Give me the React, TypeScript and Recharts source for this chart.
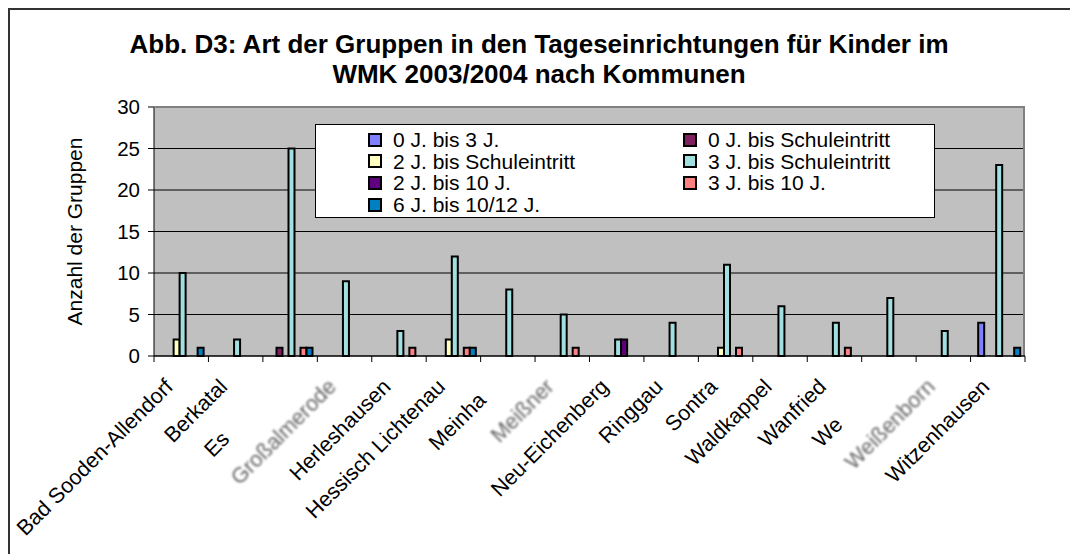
import { Bar, BarChart, CartesianGrid, Label, Legend, XAxis, YAxis } from 'recharts';

// Abb. D3: Gruppenarten je Kommune, WMK 2003/2004 (Excel-Optik nachgebaut)

const kommunen = [
  'Bad Sooden-Allendorf',
  'Berkatal',
  'Es',
  'Großalmerode',
  'Herleshausen',
  'Hessisch Lichtenau',
  'Meinha',
  'Meißner',
  'Neu-Eichenberg',
  'Ringgau',
  'Sontra',
  'Waldkappel',
  'Wanfried',
  'We',
  'Weißenborn',
  'Witzenhausen',
];
// im Original unscharf dargestellte Beschriftungen
const unscharf = ['Großalmerode', 'Meißner', 'Weißenborn'];
// im Original abgeschnittene Beschriftungen: fehlender Rest (nur für die Position)
const abgeschnitten: Record<string, string> = { Es: 'chwege', Meinha: 'rd', We: 'hretal' };

const null3 = [0, 0, 0, 0, 0, 0, 0, 0, 0, 0, 0, 0, 0, 0, 0, 4];
const nullSchule = [0, 0, 1, 0, 0, 0, 0, 0, 0, 0, 0, 0, 0, 0, 0, 0];
const zweiSchule = [2, 0, 0, 0, 0, 2, 0, 0, 0, 0, 1, 0, 0, 0, 0, 0];
const dreiSchule = [10, 2, 25, 9, 3, 12, 8, 5, 2, 4, 11, 6, 4, 7, 3, 23];
const zwei10 = [0, 0, 0, 0, 0, 0, 0, 0, 2, 0, 0, 0, 0, 0, 0, 0];
const drei10 = [0, 0, 1, 0, 1, 1, 0, 1, 0, 0, 1, 0, 1, 0, 0, 0];
const sechs10 = [1, 0, 1, 0, 0, 1, 0, 0, 0, 0, 0, 0, 0, 0, 0, 1];

const yTicks = [0, 5, 10, 15, 20, 25, 30];

const series = [
  { id: 'null3', label: '0 J. bis 3 J.', color: '#8080FF', values: null3 },
  { id: 'nullSchule', label: '0 J. bis Schuleintritt', color: '#802060', values: nullSchule },
  { id: 'zweiSchule', label: '2 J. bis Schuleintritt', color: '#FFFFC0', values: zweiSchule },
  { id: 'dreiSchule', label: '3 J. bis Schuleintritt', color: '#A0E0E0', values: dreiSchule },
  { id: 'zwei10', label: '2 J. bis 10 J.', color: '#600080', values: zwei10 },
  { id: 'drei10', label: '3 J. bis 10 J.', color: '#FF8080', values: drei10 },
  { id: 'sechs10', label: '6 J. bis 10/12 J.', color: '#0080C0', values: sechs10 },
];

const data = kommunen.map((name, i) => {
  const row: Record<string, string | number> = { name };
  for (const s of series) row[s.id] = s.values[i];
  return row;
});

const FONT = '"Liberation Sans", Arial, sans-serif';
const W = 1062;
const H = 546;
const M = { top: 99, right: 45, bottom: 0, left: 0 };
const Y_W = 146;
const X_H = 198;
const PLOT_W = W - M.right - Y_W;
const PLOT_H = H - M.top - X_H;
const BAND = PLOT_W / kommunen.length;
const TICK = 6;
const TICK_GAP = 4;
const X_FONT = 21.5;

let measureCtx: CanvasRenderingContext2D | null = null;
function textWidth(s: string) {
  if (!measureCtx) measureCtx = document.createElement('canvas').getContext('2d');
  if (!measureCtx) return s.length * X_FONT * 0.55;
  measureCtx.font = `${X_FONT}px "Liberation Sans", Arial, sans-serif`;
  return measureCtx.measureText(s).width;
}

function KommuneTick(props: any) {
  const { x, y, payload, index } = props;
  const axisY = y - TICK - TICK_GAP;
  const name = String(payload.value);
  const blur = unscharf.includes(name);
  const rest = abgeschnitten[name];
  const tx = x - 7;
  const ty = axisY + 32;
  const shift = rest ? textWidth(rest) : 0;
  return (
    <g>
      <line x1={x - BAND / 2} x2={x - BAND / 2} y1={axisY} y2={axisY + TICK} stroke="#000" />
      {index === kommunen.length - 1 && (
        <line x1={x + BAND / 2} x2={x + BAND / 2} y1={axisY} y2={axisY + TICK} stroke="#000" />
      )}
      <text
        x={tx - shift}
        y={ty}
        transform={`rotate(-45 ${tx} ${ty})`}
        textAnchor="end"
        fontSize={X_FONT}
        fontFamily={FONT}
        fill={blur ? '#666' : '#000'}
        style={blur ? { filter: 'blur(1.3px)' } : undefined}
      >
        {name}
      </text>
    </g>
  );
}

function LegendBox() {
  return (
    <div
      style={{
        width: 620,
        height: 94,
        boxSizing: 'border-box',
        background: '#fff',
        border: '1px solid #000',
        position: 'relative',
        fontFamily: FONT,
        fontSize: 21,
        color: '#000',
      }}
    >
      {series.map((s, i) => {
        const col = i % 2;
        const row = Math.floor(i / 2);
        return (
          <div
            key={s.id}
            style={{
              position: 'absolute',
              left: col ? 367 : 52,
              top: 4 + row * 21.7,
              height: 21,
              lineHeight: '21px',
              display: 'flex',
              alignItems: 'center',
              whiteSpace: 'nowrap',
            }}
          >
            <span
              style={{
                display: 'inline-block',
                width: 10,
                height: 10,
                background: s.color,
                border: '2px solid #000',
                marginRight: 11,
              }}
            />
            {s.label}
          </div>
        );
      })}
    </div>
  );
}

export default function App() {
  return (
    <div style={{ position: 'relative', width: W, height: H, fontFamily: FONT }}>
      <div
        style={{
          position: 'absolute',
          left: 0,
          top: 0,
          width: 1070,
          height: 546,
          boxSizing: 'border-box',
          borderTop: '2px solid #333',
          borderLeft: '2px solid #333',
        }}
      />
      <div
        style={{
          position: 'absolute',
          left: 0,
          top: 21,
          width: W,
          textAlign: 'center',
          fontSize: 26,
          fontWeight: 'bold',
          lineHeight: '30px',
          color: '#000',
        }}
      >
        Abb. D3: Art der Gruppen in den Tageseinrichtungen für Kinder im
        <br />
        WMK 2003/2004 nach Kommunen
      </div>
      <BarChart
        width={W}
        height={H}
        data={data}
        margin={M}
        barGap={0}
        barCategoryGap="14%"
        style={{ position: 'absolute', left: 0, top: 0 }}
      >
        <CartesianGrid fill="#C0C0C0" stroke="#000" vertical={false} strokeOpacity={1} />
        <XAxis
          dataKey="name"
          interval={0}
          height={X_H}
          tickLine={false}
          tickSize={TICK}
          tickMargin={TICK_GAP}
          axisLine={{ stroke: '#000' }}
          tick={<KommuneTick />}
        />
        <YAxis
          width={Y_W}
          domain={[0, 30]}
          ticks={yTicks}
          interval={0}
          tickSize={6}
          tickMargin={8}
          tickLine={{ stroke: '#000' }}
          axisLine={{ stroke: '#000' }}
          tick={{ fill: '#000', fontSize: 20.5, fontFamily: FONT }}
        >
          <Label
            content={(p: any) => {
              const vb = p.viewBox;
              const cx = vb.x + 66;
              const cy = vb.y + vb.height / 2;
              return (
                <text
                  x={cx}
                  y={cy}
                  transform={`rotate(-90 ${cx} ${cy})`}
                  textAnchor="middle"
                  dominantBaseline="central"
                  fontSize={21}
                  fontFamily={FONT}
                  fill="#000"
                >
                  Anzahl der Gruppen
                </text>
              );
            }}
          />
        </YAxis>
        <Legend
          layout="vertical"
          align="center"
          verticalAlign="middle"
          wrapperStyle={{ left: 307, top: 116, width: 620 }}
          content={<LegendBox />}
        />
        {series.map((s) => (
          <Bar
            key={s.id}
            dataKey={s.id}
            name={s.label}
            fill={s.color}
            stroke="#000"
            strokeWidth={2}
            isAnimationActive={false}
          />
        ))}
      </BarChart>
      <div
        style={{
          position: 'absolute',
          left: Y_W,
          top: M.top - 1,
          width: PLOT_W,
          height: PLOT_H,
          boxSizing: 'border-box',
          borderTop: '2px solid #808080',
          borderRight: '2px solid #808080',
          pointerEvents: 'none',
        }}
      />
    </div>
  );
}
